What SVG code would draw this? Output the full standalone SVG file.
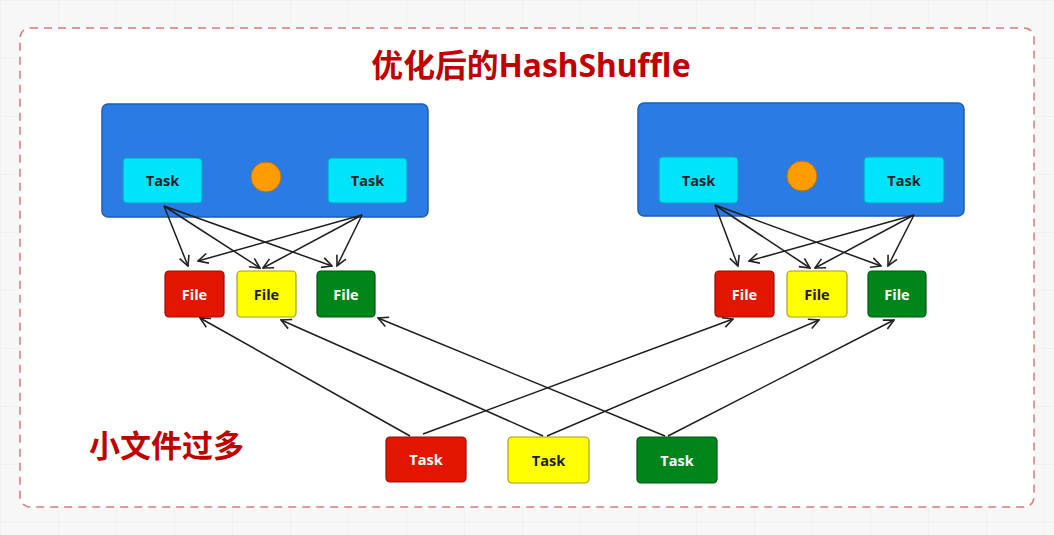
<svg xmlns="http://www.w3.org/2000/svg" width="1054" height="535" viewBox="0 0 1054 535">
<defs>
<marker id="open" viewBox="0 0 12 12" refX="11" refY="6" markerWidth="12" markerHeight="12" markerUnits="userSpaceOnUse" orient="auto">
<path d="M1,1 L11,6 L1,11" fill="none" stroke="#222" stroke-width="1.6"/>
</marker>
<pattern id="grid" width="58" height="58" patternUnits="userSpaceOnUse">
<path d="M58,0 L0,0 L0,58" fill="none" stroke="#ececec" stroke-width="1"/>
</pattern>
</defs>
<style>
.exec{fill:#2a7be3;stroke:#1d5fb5;stroke-width:1.5}
.ctask{fill:#00e4fb;stroke:#0a9fc0;stroke-width:1.2}
.dot{fill:#ff9d00;stroke:#c07000;stroke-width:1}
.red{fill:#e21600;stroke:#9a0c00;stroke-width:1.2}
.yel{fill:#ffff00;stroke:#a89c20;stroke-width:1.2}
.grn{fill:#00851a;stroke:#005510;stroke-width:1.2}
.lbl{font-family:"Open Sans","Noto Sans",sans-serif;font-weight:bold;font-size:14.5px;text-anchor:middle;dominant-baseline:central}
.dark{fill:#1e2030}
.light{fill:#ffffff}
.conn line{stroke:#1e1e1e;stroke-width:1.5;marker-end:url(#open)}
.big{font-family:"Noto Sans","Noto Sans CJK SC",sans-serif;font-weight:bold;fill:#c00000}
</style>
<rect width="1054" height="535" fill="#f7f7f7"/>
<rect width="1054" height="535" fill="url(#grid)"/>
<rect x="20" y="28" width="1014" height="479" rx="10" fill="#ffffff" stroke="#d97a7a" stroke-width="1.5" stroke-dasharray="8,6"/>
<text id="title" class="big" x="531" y="77" font-size="31.8" text-anchor="middle">优化后的HashShuffle</text>
<text id="note" class="big" x="89" y="457" font-size="31" font-family="Noto Sans CJK SC,sans-serif" fill="#cc0000">小文件过多</text>

<g id="executor1">
<rect class="exec" x="102" y="104" width="326" height="113" rx="6"/>
</g>
<g id="e1task1"><rect class="ctask" x="123" y="158" width="79" height="45" rx="4"/><text class="lbl dark" x="162.5" y="180.5">Task</text></g>
<g id="e1dot"><circle class="dot" cx="266" cy="177" r="15"/></g>
<g id="e1task2"><rect class="ctask" x="328" y="158" width="79" height="45" rx="4"/><text class="lbl dark" x="367.5" y="180.5">Task</text></g>

<g id="executor2">
<rect class="exec" x="638" y="103" width="326" height="113" rx="6"/>
</g>
<g id="e2task1"><rect class="ctask" x="659" y="157" width="79" height="46" rx="4"/><text class="lbl dark" x="698.5" y="180">Task</text></g>
<g id="e2dot"><circle class="dot" cx="802" cy="176" r="15"/></g>
<g id="e2task2"><rect class="ctask" x="864" y="157" width="80" height="46" rx="4"/><text class="lbl dark" x="904" y="180">Task</text></g>

<g id="fileL1"><rect class="red" x="165" y="271" width="59" height="46" rx="4"/><text class="lbl light" x="194.5" y="294">File</text></g>
<g id="fileL2"><rect class="yel" x="237" y="271" width="59" height="46" rx="4"/><text class="lbl dark" x="266.5" y="294">File</text></g>
<g id="fileL3"><rect class="grn" x="317" y="271" width="58" height="46" rx="4"/><text class="lbl light" x="346" y="294">File</text></g>

<g id="fileR1"><rect class="red" x="715" y="271" width="59" height="46" rx="4"/><text class="lbl light" x="744.5" y="294">File</text></g>
<g id="fileR2"><rect class="yel" x="787" y="271" width="60" height="46" rx="4"/><text class="lbl dark" x="817" y="294">File</text></g>
<g id="fileR3"><rect class="grn" x="868" y="271" width="58" height="46" rx="4"/><text class="lbl light" x="897" y="294">File</text></g>

<g id="btask1"><rect class="red" x="386" y="437" width="80" height="45" rx="4"/><text class="lbl light" x="426" y="459.5">Task</text></g>
<g id="btask2"><rect class="yel" x="508" y="437" width="81" height="46" rx="4"/><text class="lbl dark" x="548.5" y="460">Task</text></g>
<g id="btask3"><rect class="grn" x="637" y="437" width="80" height="46" rx="4"/><text class="lbl light" x="677" y="460">Task</text></g>

<g id="connectors" class="conn">
<line x1="164" y1="206" x2="188" y2="266"/>
<line x1="164" y1="206" x2="260" y2="268"/>
<line x1="164" y1="206" x2="332" y2="266"/>
<line x1="362" y1="215" x2="198" y2="261"/>
<line x1="362" y1="215" x2="263" y2="268"/>
<line x1="362" y1="215" x2="337" y2="266"/>

<line x1="715" y1="205" x2="738" y2="266"/>
<line x1="715" y1="205" x2="810" y2="268"/>
<line x1="715" y1="205" x2="881" y2="266"/>
<line x1="914" y1="215" x2="749" y2="261"/>
<line x1="914" y1="215" x2="815" y2="268"/>
<line x1="914" y1="215" x2="888" y2="266"/>

<line x1="410" y1="436" x2="200" y2="318"/>
<line x1="423" y1="434" x2="733" y2="319"/>
<line x1="543" y1="436" x2="281" y2="320"/>
<line x1="547" y1="436" x2="819" y2="320"/>
<line x1="665" y1="436" x2="378" y2="318"/>
<line x1="668" y1="436" x2="894" y2="320"/>
</g>
</svg>
